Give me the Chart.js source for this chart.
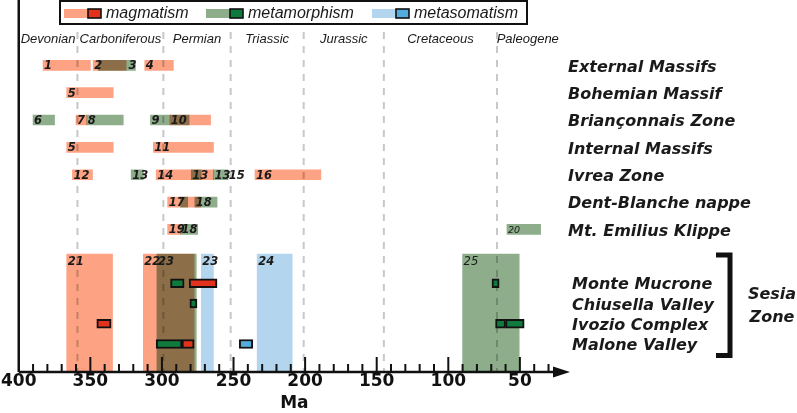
<!DOCTYPE html>
<html>
<head>
<meta charset="utf-8">
<script src="https://cdn.jsdelivr.net/npm/chart.js@4.4.0/dist/chart.umd.min.js"></script>
<style>
  html, body { margin: 0; padding: 0; background: #fff; }
  #wrap { width: 797px; height: 413px; position: relative; }
</style>
</head>
<body>
<div id="wrap"><canvas id="grafica"></canvas></div>
<script>
const tickLabels = [400, 350, 300, 250, 200, 150, 100, 50];

const periods = ['Devonian', 'Carboniferous', 'Permian', 'Triassic', 'Jurassic', 'Cretaceous', 'Paleogene'];
const periodOld = [419, 359, 299, 252, 201, 145, 66];
const periodYoung = [359, 299, 252, 201, 145, 66, 23];

const zones = ['External Massifs', 'Bohemian Massif', 'Briançonnais Zone', 'Internal Massifs',
  'Ivrea Zone', 'Dent-Blanche nappe', 'Mt. Emilius Klippe'];
const sesiaSites = ['Monte Mucrone', 'Chiusella Valley', 'Ivozio Complex', 'Malone Valley'];

// [zone, older Ma, younger Ma, label, (label age)]
const zoneMagmatism = [
  [0, 383, 350, '1'], [0, 348, 325, '2'], [0, 312, 292, '4'],
  [1, 366.5, 334, '5'],
  [2, 360, 352.5, '7'], [2, 294.5, 266, '10'],
  [3, 366.5, 334, '5'], [3, 306, 264, '11'],
  [4, 362.5, 348.5, '12'], [4, 304, 264, '14'], [4, 254, 254, '15'], [4, 235, 189, '16'],
  [5, 296, 273, '17'],
  [6, 296, 287, '19']
];
const zoneMetamorphism = [
  [0, 344.5, 318.5, '3', 324],
  [2, 390, 375, '6'], [2, 352.5, 327, '8'], [2, 308, 281, '9'],
  [4, 321.5, 313, '13'], [4, 279.5, 272.5, '13'], [4, 264, 254, '13'],
  [5, 287, 282, ''], [5, 277, 261.5, '18'],
  [6, 287, 275, '18'], [6, 59, 35.5, '20']
];

// Sesia Zone, ranges for the whole zone: [older, younger, label]
const sesiaMagmatism = [[366.5, 334.5, '21'], [313, 277.5, '22']];
const sesiaMetamorphism = [[303.5, 276, '23'], [90, 50.5, '25']];
const sesiaMetasomatism = [[272.5, 264, '23'], [233.5, 209, '24']];

// Sesia Zone, single sites: [site, older, younger]
const siteMagmatism = [[0, 281, 261.5], [2, 345.5, 335.5], [3, 286, 277.5]];
const siteMetamorphism = [[0, 294, 284.5], [0, 69.5, 64.5], [1, 280.5, 275.5], [2, 67, 60], [2, 60, 47], [3, 304, 286]];
const siteMetasomatism = [[3, 246, 236.5]];

const C = {
  mag: '#FDA283', met: '#8DAD8B', meta: '#B4D5EE',
  magBox: '#E2321E', metBox: '#0E7A3C', metaBox: '#52ACDE',
  ink: '#1a1a1a', grid: '#c8c8c8'
};

// vertical layout in row units
const zoneRow = i => i;
const siteRow = j => 7.97 + 0.74 * j;
const BAND_ROW = 9.06;
const Y_MIN = -2.389, Y_MAX = 11.214;

const bars = (list, rowFn) => list.map(d => ({ x: [d[1], d[2]], y: rowFn(d[0]) }));
const bands = list => list.map(d => ({ x: [d[0], d[1]], y: BAND_ROW }));

const FONT_NUM = 'italic bold 11.5px "DejaVu Sans"';
const LIGHT = { '20': 9.5, '25': 11.5 };

function line(ctx, x1, y1, x2, y2) {
    ctx.beginPath();
    ctx.moveTo(x1, y1);
    ctx.lineTo(x2, y2);
    ctx.stroke();
}

function numero(ctx, txt, px, py) {
    if (!txt) return;
    ctx.font = LIGHT[txt] ? 'italic ' + LIGHT[txt] + 'px "DejaVu Sans"' : FONT_NUM;
    ctx.fillText(txt, px, py);
}

const decor = {
    id: 'decor',
    beforeDatasetsDraw(chart) {
        const { ctx, chartArea, scales: { x } } = chart;
        ctx.save();
        ctx.strokeStyle = C.grid;
        ctx.lineWidth = 2;
        ctx.setLineDash([7, 7]);
        periodYoung.slice(0, -1).forEach(v => {
            const px = x.getPixelForValue(v);
            line(ctx, px, 32, px, chartArea.bottom);
        });
        ctx.restore();
    },
    beforeDatasetDraw(chart, args) {
        if (chart.data.datasets[args.index].blend) chart.ctx.globalCompositeOperation = 'multiply';
    },
    afterDatasetDraw(chart) {
        chart.ctx.globalCompositeOperation = 'source-over';
    },
    afterDatasetsDraw(chart) {
        const { ctx, chartArea, scales: { x, y } } = chart;
        const { left, bottom, right } = chartArea;
        ctx.save();

        // numeri delle barre
        ctx.fillStyle = C.ink;
        ctx.textAlign = 'left';
        ctx.textBaseline = 'alphabetic';
        [...zoneMagmatism, ...zoneMetamorphism].forEach(d => {
            const age = d.length > 4 ? d[4] : d[1];
            numero(ctx, d[3], x.getPixelForValue(age) + 1, y.getPixelForValue(zoneRow(d[0])) + 4);
        });
        [...sesiaMagmatism, ...sesiaMetamorphism, ...sesiaMetasomatism].forEach(d => {
            numero(ctx, d[2], x.getPixelForValue(d[0]) + 1, 265);
        });

        // periodi
        ctx.font = 'italic 13px "Liberation Sans"';
        ctx.textAlign = 'center';
        periods.forEach((p, i) => {
            const mid = (Math.min(periodOld[i], 400) + periodYoung[i]) / 2;
            ctx.fillText(p, x.getPixelForValue(mid), 43);
        });

        // assi
        ctx.strokeStyle = '#111';
        ctx.fillStyle = '#111';
        ctx.lineWidth = 2.5;
        line(ctx, left, 0, left, bottom);
        line(ctx, left, bottom, right - 14, bottom);
        ctx.beginPath();
        ctx.moveTo(right - 17, bottom - 5.5);
        ctx.lineTo(right, bottom);
        ctx.lineTo(right - 17, bottom + 5.5);
        ctx.closePath();
        ctx.fill();
        ctx.lineWidth = 2;
        for (let v = 390; v >= 30; v -= 10) {
            const px = x.getPixelForValue(v);
            line(ctx, px, bottom, px, bottom - (v % 50 === 0 ? 15 : 8));
        }

        // nomi
        ctx.fillStyle = C.ink;
        ctx.textAlign = 'left';
        ctx.font = 'italic bold 16px "DejaVu Sans"';
        zones.forEach((z, i) => ctx.fillText(z, 568, y.getPixelForValue(zoneRow(i)) + 6.2));
        sesiaSites.forEach((s, j) => ctx.fillText(s, 572, y.getPixelForValue(siteRow(j)) + 6));

        // parentesi Sesia
        ctx.strokeStyle = '#111';
        ctx.lineWidth = 5;
        ctx.beginPath();
        ctx.moveTo(716, 255);
        ctx.lineTo(730, 255);
        ctx.lineTo(730, 355.5);
        ctx.lineTo(716, 355.5);
        ctx.stroke();
        ctx.textAlign = 'center';
        ctx.fillText('Sesia', 772, 299);
        ctx.fillText('Zone', 772, 322);

        // legenda
        ctx.lineWidth = 2;
        ctx.strokeRect(60, 1, 467, 23);
        const items = [
            ['magmatism', C.mag, C.magBox, 64],
            ['metamorphism', C.met, C.metBox, 206],
            ['metasomatism', C.meta, C.metaBox, 372]
        ];
        ctx.font = 'italic 16px "Liberation Sans"';
        ctx.textAlign = 'left';
        items.forEach(([txt, light, dark, x0]) => {
            ctx.fillStyle = light;
            ctx.fillRect(x0, 9, 24, 9);
            ctx.fillStyle = dark;
            ctx.fillRect(x0 + 24, 9, 13, 9);
            ctx.lineWidth = 1.6;
            ctx.strokeRect(x0 + 24, 9, 13, 9);
            ctx.fillStyle = C.ink;
            ctx.fillText(txt, x0 + 42, 18);
        });
        ctx.restore();
    }
};

const tickFont = { family: 'DejaVu Sans', weight: 'bold', size: 17, lineHeight: 1 };

const chart = new Chart(document.getElementById('grafica'), {
    type: 'bar',
    data: {
        datasets: [
            { data: bars(siteMetasomatism, siteRow), backgroundColor: C.metaBox, borderColor: '#111', borderWidth: 2, barThickness: 9, order: 0 },
            { data: bars(siteMetamorphism, siteRow), backgroundColor: C.metBox, borderColor: '#111', borderWidth: 2, barThickness: 9, order: 0 },
            { data: bars(siteMagmatism, siteRow), backgroundColor: C.magBox, borderColor: '#111', borderWidth: 2, barThickness: 9, order: 0 },
            { data: bars(zoneMagmatism, zoneRow), backgroundColor: C.mag, barThickness: 10, order: 1, blend: true },
            { data: bars(zoneMetamorphism, zoneRow), backgroundColor: C.met, barThickness: 10, order: 1, blend: true },
            { data: bands(sesiaMagmatism), backgroundColor: C.mag, barThickness: 118, order: 2, blend: true },
            { data: bands(sesiaMetamorphism), backgroundColor: C.met, barThickness: 118, order: 2, blend: true },
            { data: bands(sesiaMetasomatism), backgroundColor: C.meta, barThickness: 118, order: 2, blend: true }
        ]
    },
    options: {
        indexAxis: 'y',
        responsive: true,
        maintainAspectRatio: false,
        animation: false,
        layout: { padding: { left: 17, right: 227, top: 0, bottom: 0 } },
        datasets: { bar: { grouped: false, borderSkipped: false, borderWidth: 0 } },
        plugins: { legend: { display: false }, tooltip: { enabled: false } },
        scales: {
            y: { type: 'linear', display: false, reverse: true, min: Y_MIN, max: Y_MAX, offset: false },
            x: {
                type: 'linear', reverse: true, min: 15, max: 400, beginAtZero: false,
                afterBuildTicks: s => { s.ticks = tickLabels.map(v => ({ value: v })); },
                grid: { display: false, drawTicks: false },
                border: { display: false },
                ticks: { autoSkip: false, maxRotation: 0, padding: 1, color: '#111', font: tickFont },
                title: { display: true, text: 'Ma', color: '#111', padding: { top: 4, bottom: 1 }, font: tickFont }
            }
        }
    },
    plugins: [decor]
});
</script>
</body>
</html>
